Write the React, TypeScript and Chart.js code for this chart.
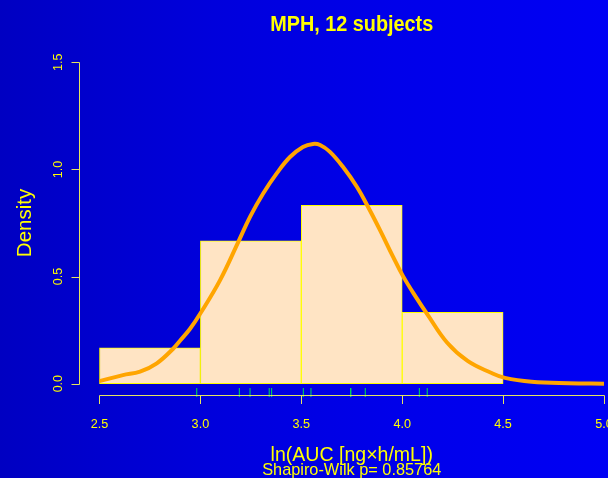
import React, { useEffect, useRef } from "react";
import { Chart, registerables } from "chart.js";

Chart.register(...registerables);

// ---- data ----
const binEdges = [2.5, 3.0, 3.5, 4.0, 4.5];
const binDensity = [0.167, 0.667, 0.833, 0.333];

const kdeX = [2.5, 2.616, 2.701, 2.784, 2.864, 2.899, 2.948, 2.998, 3.097, 3.188, 3.246, 3.311, 3.38, 3.444, 3.508, 3.558, 3.593, 3.642, 3.707, 3.776, 3.831, 3.89, 3.955, 4.004, 4.073, 4.123, 4.222, 4.324, 4.44, 4.509, 4.641, 4.824, 5.0];
const kdeY = [0.012, 0.04, 0.056, 0.095, 0.162, 0.2, 0.255, 0.325, 0.482, 0.662, 0.779, 0.888, 0.984, 1.058, 1.105, 1.119, 1.114, 1.082, 1.011, 0.918, 0.825, 0.717, 0.592, 0.502, 0.397, 0.326, 0.192, 0.106, 0.051, 0.027, 0.009, 0.002, 0.0];

const rugValues = [2.982, 3.193, 3.246, 3.341, 3.353, 3.51, 3.548, 3.745, 3.745, 3.817, 4.085, 4.124];

const xTicks = [2.5, 3.0, 3.5, 4.0, 4.5, 5.0];
const xTickLabels = ["2.5", "3.0", "3.5", "4.0", "4.5", "5.0"];
const yTicks = [0, 0.5, 1.0, 1.5];
const yTickLabels = ["0.0", "0.5", "1.0", "1.5"];

const titleText = "MPH, 12 subjects";
const xLabel = "ln(AUC [ng\u00d7h/mL])";
const subLabel = "Shapiro-Wilk p= 0.85764";
const yLabel = "Density";

const FONT = '"Liberation Sans", Arial, Helvetica, sans-serif';
const YELLOW = "#ffff00";
const AXIS = "#e4e460";

function drawText(ctx: CanvasRenderingContext2D, text: string, x: number, y: number, font: string, sx: number, rot: number) {
  ctx.save();
  ctx.translate(x, y);
  if (rot) ctx.rotate(rot);
  ctx.scale(sx, 1);
  ctx.font = font;
  ctx.fillStyle = YELLOW;
  ctx.textAlign = "center";
  ctx.textBaseline = "alphabetic";
  ctx.fillText(text, 0, 0);
  ctx.restore();
}

const rAxesPlugin = {
  id: "rAxes",
  afterDraw(chart: any) {
    const ctx: CanvasRenderingContext2D = chart.ctx;
    const xs = chart.scales.x;
    const ys = chart.scales.y;
    const ca = chart.chartArea;
    ctx.save();
    ctx.strokeStyle = AXIS;
    ctx.lineWidth = 1;

    // x axis
    const axY = Math.floor(ca.bottom) + 0.5 - 1;
    const x0 = Math.round(xs.getPixelForValue(xTicks[0])) + 0.5;
    const x1 = Math.round(xs.getPixelForValue(xTicks[xTicks.length - 1])) + 0.5;
    ctx.beginPath();
    ctx.moveTo(x0, axY);
    ctx.lineTo(x1, axY);
    xTicks.forEach((v) => {
      const px = Math.round(xs.getPixelForValue(v)) + 0.5;
      ctx.moveTo(px, axY);
      ctx.lineTo(px, axY + 8.5);
    });
    ctx.stroke();

    // y axis
    const axX = Math.round(ca.left) + 0.5;
    const y0 = Math.round(ys.getPixelForValue(yTicks[0])) + 0.5;
    const y1 = Math.round(ys.getPixelForValue(yTicks[yTicks.length - 1])) + 0.5;
    ctx.beginPath();
    ctx.moveTo(axX, y0);
    ctx.lineTo(axX, y1);
    yTicks.forEach((v) => {
      const py = Math.round(ys.getPixelForValue(v)) + 0.5;
      ctx.moveTo(axX, py);
      ctx.lineTo(axX - 8, py);
    });
    ctx.stroke();
    ctx.restore();

    // tick labels
    xTicks.forEach((v, i) => {
      drawText(ctx, xTickLabels[i], xs.getPixelForValue(v), 428, `13.6px ${FONT}`, 0.93, 0);
    });
    yTicks.forEach((v, i) => {
      drawText(ctx, yTickLabels[i], 61.7, ys.getPixelForValue(v), `12.5px ${FONT}`, 1, -Math.PI / 2);
    });

    const cx = (ca.left + ca.right) / 2;
    const cy = (ca.top + ca.bottom) / 2;
    drawText(ctx, titleText, cx, 31, `bold 22px ${FONT}`, 0.9, 0);
    drawText(ctx, xLabel, cx, 460.5, `21px ${FONT}`, 0.93, 0);
    drawText(ctx, subLabel, cx, 475, `17px ${FONT}`, 0.96, 0);
    drawText(ctx, yLabel, 30.7, cy, `20.5px ${FONT}`, 1, -Math.PI / 2);
  },
};

export default function App() {
  const canvasRef = useRef<HTMLCanvasElement | null>(null);

  useEffect(() => {
    const canvas = canvasRef.current;
    if (!canvas) return;
    const binCenters = binEdges.slice(0, -1).map((e, i) => (e + binEdges[i + 1]) / 2);
    const rugLevel = -0.0415;

    const chart = new Chart(canvas, {
      type: "bar",
      data: {
        datasets: [
          {
            type: "line",
            label: "density",
            data: kdeX.map((x, i) => ({ x, y: kdeY[i] })),
            borderColor: "#ffa500",
            backgroundColor: "#ffa500",
            borderWidth: 4,
            pointRadius: 0,
            tension: 0.4,
            borderJoinStyle: "round",
            fill: false,
            order: 0,
            clip: false,
          } as any,
          {
            type: "line",
            label: "rug",
            data: rugValues.map((v) => ({ x: v, y: rugLevel })),
            showLine: false,
            pointStyle: "line",
            rotation: 90,
            pointRadius: 4.5,
            pointBorderColor: "#00e050",
            pointBackgroundColor: "#00e050",
            pointBorderWidth: 1,
            order: 1,
            clip: false,
          } as any,
          {
            type: "bar",
            label: "hist",
            data: binCenters.map((c, i) => ({ x: c, y: binDensity[i] })),
            backgroundColor: "#ffe4c4",
            borderColor: "#ffff00",
            borderWidth: 1,
            borderSkipped: false,
            barPercentage: 1,
            categoryPercentage: 1,
            order: 2,
          } as any,
        ],
      },
      options: {
        responsive: false,
        animation: false,
        devicePixelRatio: 1,
        events: [],
        layout: { padding: { left: 79.3, right: 15.8, top: 49.5, bottom: 81.5 } },
        plugins: { legend: { display: false }, tooltip: { enabled: false }, title: { display: false } },
        scales: {
          x: {
            type: "linear",
            min: 2.4,
            max: 5.1,
            offset: false,
            display: false,
            afterBuildTicks: (s: any) => {
              s.ticks = xTicks.map((v) => ({ value: v }));
            },
          },
          y: {
            type: "linear",
            min: -0.06,
            max: 1.56,
            display: false,
          },
        },
      } as any,
      plugins: [rAxesPlugin],
    });
    return () => chart.destroy();
  }, []);

  return (
    <div
      style={{
        position: "fixed",
        left: 0,
        top: 0,
        width: 608,
        height: 478,
        overflow: "hidden",
        background: "linear-gradient(to right, #0000c2 0%, #0000dc 35%, #0000ea 65%, #0000f4 100%)",
      }}
    >
      <canvas ref={canvasRef} width={640} height={478} style={{ display: "block", width: 640, height: 478 }} />
    </div>
  );
}
